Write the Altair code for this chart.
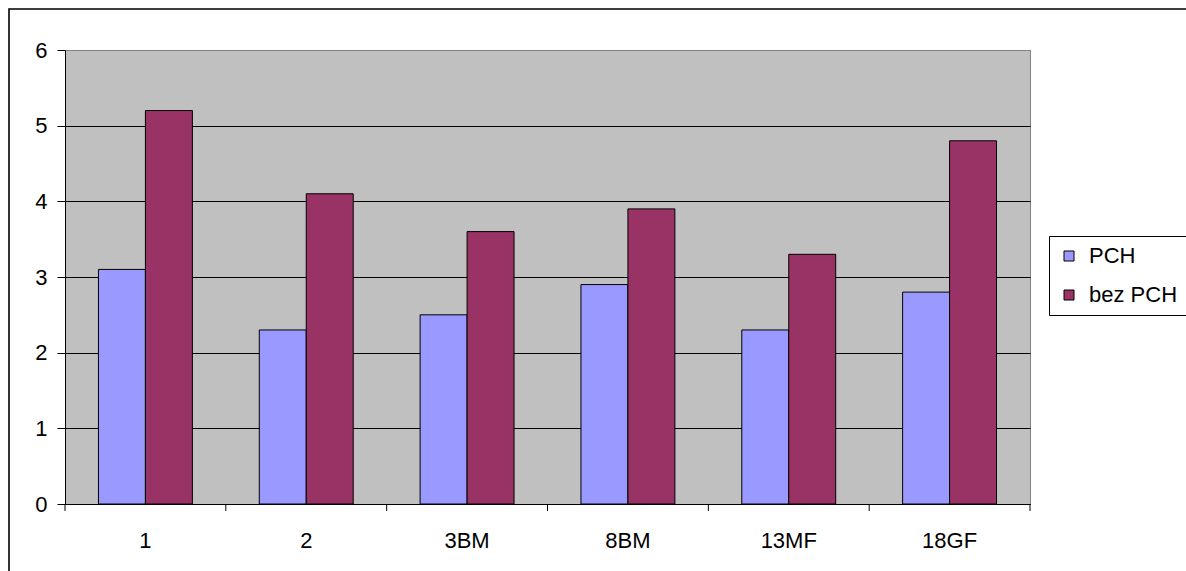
import altair as alt
import pandas as pd

# Categories and the two series
categories = ["1", "2", "3BM", "8BM", "13MF", "18GF"]
series_names = ["PCH", "bez PCH"]
pch_values = [3.1, 2.3, 2.5, 2.9, 2.3, 2.8]
bez_pch_values = [5.2, 4.1, 3.6, 3.9, 3.3, 4.8]
y_ticks = [0, 1, 2, 3, 4, 5, 6]
# category boundaries (in band units) where the x ticks sit
boundaries = [0, 1, 2, 3, 4, 5, 6]

colors = ["#9999FF", "#993366"]
font = "Liberation Sans"

rows = []
for cat, a, b in zip(categories, pch_values, bez_pch_values):
    rows.append({"cat": cat, "series": series_names[0], "value": a})
    rows.append({"cat": cat, "series": series_names[1], "value": b})
df = pd.DataFrame(rows)

W, H = 965, 454

bars = alt.Chart(df).mark_bar(stroke="black", strokeWidth=1).encode(
    x=alt.X(
        "cat:N",
        sort=categories,
        title=None,
        scale=alt.Scale(paddingInner=0.416, paddingOuter=0.208),
        axis=alt.Axis(
            labelAngle=0,
            ticks=False,
            domainColor="black",
            labelColor="black",
            labelFont=font,
            labelFontSize=22,
            labelPadding=26,
            grid=False,
        ),
    ),
    xOffset=alt.XOffset("series:N", sort=series_names, scale=alt.Scale(paddingInner=0, paddingOuter=0)),
    y=alt.Y(
        "value:Q",
        title=None,
        scale=alt.Scale(domain=[0, 6], nice=False),
        axis=alt.Axis(
            values=y_ticks,
            tickSize=8,
            tickColor="black",
            domainColor="black",
            labelColor="black",
            labelFont=font,
            labelFontSize=22,
            labelPadding=10,
            grid=True,
            gridColor=alt.condition("datum.value == 6", alt.value("#808080"), alt.value("black")),
            gridWidth=1,
            gridOpacity=1,
        ),
    ),
    color=alt.Color(
        "series:N",
        sort=series_names,
        scale=alt.Scale(domain=series_names, range=colors),
        legend=alt.Legend(
            title=None,
            orient="none",
            legendX=984,
            legendY=186,
            symbolType="square",
            symbolSize=100,
            symbolStrokeColor="black",
            symbolStrokeWidth=1,
            labelFont=font,
            labelFontSize=22,
            labelColor="black",
            labelOffset=9,
            rowPadding=17,
            padding=9,
            strokeColor="black",
            fillColor="white",
        ),
    ),
)

# Ticks on the category boundaries below the x axis
x_ticks = alt.Chart(pd.DataFrame({"b": boundaries})).mark_rule(
    color="black", strokeWidth=1
).encode(
    x=alt.X("b:Q", scale=alt.Scale(domain=[0, 6], nice=False), axis=None),
    y=alt.value(H),
    y2=alt.value(H + 7),
)

# Outer frame around the whole chart
frame = alt.Chart(pd.DataFrame({"k": [0]})).mark_rect(
    fill=None, stroke="black", strokeWidth=1.6
).encode(
    x=alt.value(-56), x2=alt.value(W + 200),
    y=alt.value(-41), y2=alt.value(H + 120),
)

chart = alt.layer(bars, x_ticks, frame).resolve_scale(
    x="independent"
).properties(
    width=W,
    height=H,
    padding={"left": 65, "top": 50, "right": 156, "bottom": 67},
    autosize=alt.AutoSizeParams(type="none"),
    background="white",
).configure_view(
    fill="#C0C0C0",
    stroke="#808080",
    strokeWidth=1,
)

chart.save("out.html", embed_options={"renderer": "svg", "actions": False})
